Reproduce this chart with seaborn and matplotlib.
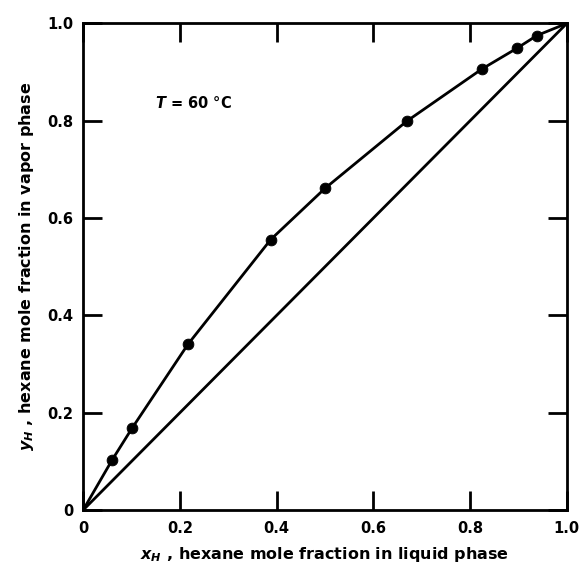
import numpy as np
import pandas as pd
import seaborn as sns
import matplotlib.pyplot as plt

# Données (T = 60 °C, hexane)
x_liquide = [0.060, 0.101, 0.217, 0.388, 0.500, 0.669, 0.824, 0.897, 0.938]
y_vapeur = [0.103, 0.168, 0.341, 0.556, 0.661, 0.799, 0.906, 0.949, 0.975]
extremites = [0.0, 1.0]
graduations = [0.0, 0.2, 0.4, 0.6, 0.8, 1.0]
etiquettes = ["0", "0.2", "0.4", "0.6", "0.8", "1.0"]

df_points = pd.DataFrame({"x": x_liquide, "y": y_vapeur})
df_courbe = pd.DataFrame({
    "x": [extremites[0]] + x_liquide + [extremites[1]],
    "y": [extremites[0]] + y_vapeur + [extremites[1]],
})
df_diag = pd.DataFrame({"x": extremites, "y": extremites})

sns.set_style("ticks")
plt.rcParams["font.family"] = ["DejaVu Sans"]
plt.rcParams["font.weight"] = "bold"
plt.rcParams["mathtext.fontset"] = "dejavusans"
plt.rcParams["text.color"] = "black"
plt.rcParams["axes.labelcolor"] = "black"

fig = plt.figure(figsize=(5.85, 5.70), dpi=100)
ax = fig.add_axes([0.142, 0.105, 0.827, 0.854])

sns.lineplot(data=df_diag, x="x", y="y", color="black", linewidth=2, ax=ax)
sns.lineplot(data=df_courbe, x="x", y="y", color="black", linewidth=2, sort=False, ax=ax)
sns.scatterplot(data=df_points, x="x", y="y", color="black", s=60, edgecolor="black",
                zorder=3, ax=ax)

ax.set_xlim(0, 1)
ax.set_ylim(0, 1)
ax.set_xticks(graduations)
ax.set_yticks(graduations)
ax.set_xticklabels(etiquettes)
ax.set_yticklabels(etiquettes)
ax.tick_params(direction="in", length=14, width=2, top=True, right=True,
               labelsize=10.5, colors="black")
ax.tick_params(axis="x", pad=8)
ax.tick_params(axis="y", pad=7)
for s in ax.spines.values():
    s.set_linewidth(2)
    s.set_color("black")

ax.set_xlabel(r"$x_H$ , hexane mole fraction in liquid phase", fontsize=11.5,
              fontweight="bold", labelpad=6, color="black")
ax.set_ylabel(r"$y_H$ , hexane mole fraction in vapor phase", fontsize=11.5,
              fontweight="bold", labelpad=8, color="black")
ax.text(0.149, 0.836, r"$T$ = 60 °C", fontsize=10.5, fontweight="bold",
        va="center", color="black")

fig.savefig("out.png", dpi=100)
